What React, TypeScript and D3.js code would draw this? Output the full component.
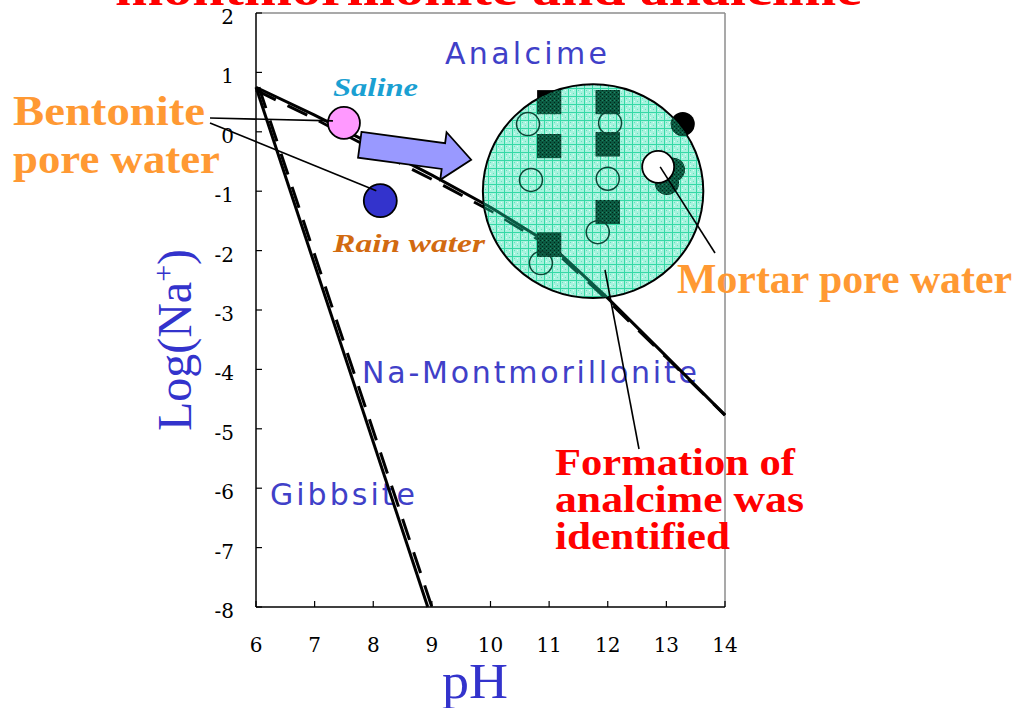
import React from 'react';
import * as d3 from 'd3';

// axis ticks
const phTicks = [6, 7, 8, 9, 10, 11, 12, 13, 14];
const logNaTicks = [2, 1, 0, -1, -2, -3, -4, -5, -6, -7, -8];

// analcime / Na-montmorillonite boundary
const anaBoundaryPH = [6, 7, 8, 9, 10, 11, 12, 13, 14];
const anaBoundaryLogNa = [0.75, 0.28, -0.22, -0.73, -1.27, -1.88, -2.8, -3.78, -4.77];
const anaBoundaryDashLogNa = [0.7, 0.22, -0.3, -0.8, -1.33, -1.93, -2.84, -3.8, -4.77];

// gibbsite / Na-montmorillonite boundary
const gibbSolidPH = [6, 8.93];
const gibbSolidLogNa = [0.75, -8];
const gibbDashPH = [6.05, 9.0];
const gibbDashLogNa = [0.75, -8];

// water compositions
const salinePoint = { ph: 7.5, logNa: 0.15 };
const rainPoint = { ph: 8.12, logNa: -1.16 };
const mortarPoint = { ph: 12.86, logNa: -0.59 };

// experiment markers inside the circle
const squarePH = [11, 12, 11, 12, 12, 11];
const squareLogNa = [0.5, 0.5, -0.24, -0.21, -1.35, -1.9];
const openPH = [10.64, 12.04, 10.69, 12.0, 11.83, 10.86];
const openLogNa = [0.13, 0.15, -0.81, -0.79, -1.69, -2.21];
const darkDotPH = [13.28, 13.11, 13.01];
const darkDotLogNa = [0.13, -0.64, -0.86];

// analcime field circle
const fieldCenter = { ph: 11.75, logNa: -1.0 };
const fieldRadius = { ph: 1.88, logNa: 1.8 };

// arrow saline -> field
const arrowFrom = { ph: 7.77, logNa: -0.22 };
const arrowTo = { ph: 9.67, logNa: -0.47 };

const W = 1018;
const H = 708;
const serif = '"Liberation Serif", "DejaVu Serif", serif';
const tickFont = '"DejaVu Serif", serif';
const sans = '"DejaVu Sans", Verdana, sans-serif';

export default function App() {
  const x = d3.scaleLinear().domain([6, 14]).range([256, 725]);
  const y = d3.scaleLinear().domain([-8, 2]).range([607, 13]);

  const line = d3.line<[number, number]>().x(d => x(d[0])).y(d => y(d[1]));
  const anaSolid = line(anaBoundaryPH.map((p, i) => [p, anaBoundaryLogNa[i]]))!;
  const anaDash = line(anaBoundaryPH.map((p, i) => [p, anaBoundaryDashLogNa[i]]))!;
  const gibbSolid = line(gibbSolidPH.map((p, i) => [p, gibbSolidLogNa[i]]))!;
  const gibbDash = line(gibbDashPH.map((p, i) => [p, gibbDashLogNa[i]]))!;

  const cx = x(fieldCenter.ph);
  const cy = y(fieldCenter.logNa);
  const rx = x(fieldCenter.ph + fieldRadius.ph) - cx;
  const ry = cy - y(fieldCenter.logNa + fieldRadius.logNa);

  // block arrow
  const ax0 = x(arrowFrom.ph), ay0 = y(arrowFrom.logNa);
  const ax1 = x(arrowTo.ph), ay1 = y(arrowTo.logNa);
  const len = Math.hypot(ax1 - ax0, ay1 - ay0);
  const ang = (Math.atan2(ay1 - ay0, ax1 - ax0) * 180) / Math.PI;
  const bw = 13, hw = 24, hl = 28;
  const arrowPts = [
    [0, -bw], [len - hl, -bw], [len - hl, -hw], [len, 0],
    [len - hl, hw], [len - hl, bw], [0, bw],
  ].map(p => p.join(',')).join(' ');

  const sq = 24;

  return (
    <svg width={W} height={H} style={{ position: 'absolute', left: 0, top: 0, background: '#fff' }}>
      <defs>
        <pattern id="fieldFill" width="8" height="8" patternUnits="userSpaceOnUse">
          <rect width="8" height="8" fill="#a6f2dd" />
          <rect x="2" y="2" width="1" height="1" fill="#5fe3bb" />
          <rect x="5" y="5" width="1" height="1" fill="#5fe3bb" />
          <rect x="2" y="5" width="1" height="1" fill="#e0fff5" />
          <rect x="5" y="2" width="1" height="1" fill="#e0fff5" />
          <rect x="0" y="0" width="8" height="1" fill="#34d9a6" />
          <rect x="0" y="0" width="1" height="8" fill="#34d9a6" />
        </pattern>
        <pattern id="darkFill" width="4" height="4" patternUnits="userSpaceOnUse">
          <rect width="4" height="4" fill="#0c5a42" />
          <rect x="0" y="0" width="1" height="1" fill="#002818" />
          <rect x="2" y="2" width="1" height="1" fill="#002818" />
          <rect x="2" y="0" width="1" height="1" fill="#1f8a66" />
        </pattern>
        <clipPath id="fieldClip">
          <ellipse cx={cx} cy={cy} rx={rx} ry={ry} />
        </clipPath>
      </defs>

      {/* title, cut by top edge */}
      <text x={115} y={5} fill="#ff0000" fontFamily={serif} fontWeight="bold" fontSize={48}
        textLength={747} lengthAdjust="spacingAndGlyphs">montmorillonite and analcime</text>

      {/* frame */}
      <line x1={x(6)} x2={x(14)} y1={y(2)} y2={y(2)} stroke="#8c8c8c" strokeWidth={1.5} />
      <line x1={x(14)} x2={x(14)} y1={y(2)} y2={y(-8)} stroke="#8c8c8c" strokeWidth={1.5} />
      <line x1={x(6)} x2={x(6)} y1={y(2)} y2={y(-8)} stroke="#000" strokeWidth={1.5} />
      <line x1={x(6)} x2={x(14)} y1={y(-8)} y2={y(-8)} stroke="#000" strokeWidth={1.5} />

      {logNaTicks.map(t => (
        <g key={'y' + t}>
          <line x1={x(6)} x2={x(6) + 6} y1={y(t)} y2={y(t)} stroke="#000" strokeWidth={1.2} />
          <text x={234} y={y(t) + 4} dy="0.35em" textAnchor="end" fontFamily={tickFont}
            fontSize={20}>{t}</text>
        </g>
      ))}
      {phTicks.map(t => (
        <g key={'x' + t}>
          <line x1={x(t)} x2={x(t)} y1={y(-8)} y2={y(-8) - 6} stroke="#000" strokeWidth={1.2} />
          <text x={x(t)} y={652} textAnchor="middle" fontFamily={tickFont}
            fontSize={20}>{t}</text>
        </g>
      ))}

      {/* axis titles */}
      <text x={475} y={698} textAnchor="middle" fill="#3333cc" fontFamily={serif} fontSize={50}
        textLength={66} lengthAdjust="spacingAndGlyphs">pH</text>
      <text transform="translate(191,340) rotate(-90)" textAnchor="middle" fill="#3333cc"
        fontFamily={serif} fontSize={48}>
        Log(Na<tspan dy={-18} fontSize={30}>+</tspan><tspan dy={18}>)</tspan>
      </text>

      {/* field names */}
      <text x={445} y={64} fill="#4040c8" fontFamily={sans} fontSize={30} textLength={162}
        lengthAdjust="spacing">Analcime</text>
      <text x={362} y={383} fill="#4040c8" fontFamily={sans} fontSize={30} textLength={335}
        lengthAdjust="spacing">Na-Montmorillonite</text>
      <text x={270} y={505} fill="#4040c8" fontFamily={sans} fontSize={30} textLength={145}
        lengthAdjust="spacing">Gibbsite</text>

      {/* boundaries */}
      <path d={gibbDash} fill="none" stroke="#000" strokeWidth={3} strokeDasharray="22,13" />
      <path d={gibbSolid} fill="none" stroke="#000" strokeWidth={3} />
      <path d={anaDash} fill="none" stroke="#000" strokeWidth={3} strokeDasharray="22,13" />
      <path d={anaSolid} fill="none" stroke="#000" strokeWidth={3} />

      {/* analcime field observed */}
      <ellipse cx={cx} cy={cy} rx={rx} ry={ry} fill="url(#fieldFill)"
        stroke="#000" strokeWidth={2} />
      <g clipPath="url(#fieldClip)">
        <path d={anaDash} fill="none" stroke="#0a5a44" strokeWidth={2.5} strokeDasharray="22,13" />
        <path d={anaSolid} fill="none" stroke="#0a5a44" strokeWidth={3} />
      </g>

      {/* dark markers: black outside field, green inside */}
      {squarePH.map((p, i) => (
        <rect key={'sb' + i} x={x(p) - sq / 2} y={y(squareLogNa[i]) - sq / 2} width={sq} height={sq} fill="#000" />
      ))}
      {darkDotPH.map((p, i) => (
        <circle key={'db' + i} cx={x(p)} cy={y(darkDotLogNa[i])} r={12} fill="#000" />
      ))}
      <g clipPath="url(#fieldClip)">
        {squarePH.map((p, i) => (
          <rect key={'sg' + i} x={x(p) - sq / 2} y={y(squareLogNa[i]) - sq / 2} width={sq} height={sq} fill="url(#darkFill)" />
        ))}
        {darkDotPH.map((p, i) => (
          <circle key={'dg' + i} cx={x(p)} cy={y(darkDotLogNa[i])} r={12} fill="url(#darkFill)" />
        ))}
      </g>
      {openPH.map((p, i) => (
        <circle key={'o' + i} cx={x(p)} cy={y(openLogNa[i])} r={11.5} fill="none" stroke="#0b4534" strokeWidth={1.5} />
      ))}
      <circle cx={x(mortarPoint.ph)} cy={y(mortarPoint.logNa)} r={16} fill="#fff" stroke="#000" strokeWidth={1.8} />

      {/* arrow */}
      <polygon points={arrowPts} transform={`translate(${ax0},${ay0}) rotate(${ang})`}
        fill="#9999ff" stroke="#000" strokeWidth={1.8} />

      {/* water samples */}
      <circle cx={x(salinePoint.ph)} cy={y(salinePoint.logNa)} r={16} fill="#ff99ff" stroke="#000" strokeWidth={1.8} />
      <circle cx={x(rainPoint.ph)} cy={y(rainPoint.logNa)} r={16.5} fill="#3333cc" stroke="#000" strokeWidth={1.8} />

      {/* leaders */}
      <line x1={210} y1={118} x2={x(salinePoint.ph) - 11} y2={y(salinePoint.logNa) - 2} stroke="#000" strokeWidth={1.6} />
      <line x1={210} y1={123} x2={x(rainPoint.ph) - 4} y2={y(rainPoint.logNa) - 10} stroke="#000" strokeWidth={1.6} />
      <line x1={x(mortarPoint.ph) + 2} y1={y(mortarPoint.logNa)} x2={715} y2={253} stroke="#000" strokeWidth={1.6} />
      <line x1={605} y1={270} x2={639} y2={449} stroke="#000" strokeWidth={1.6} />

      {/* labels */}
      <text x={333} y={96} fill="#1aa0d2" fontFamily={serif} fontWeight="bold" fontStyle="italic"
        fontSize={25} textLength={85} lengthAdjust="spacingAndGlyphs">Saline</text>
      <text x={333} y={252} fill="#d26a10" fontFamily={serif} fontWeight="bold" fontStyle="italic"
        fontSize={25} textLength={152} lengthAdjust="spacingAndGlyphs">Rain water</text>

      <g fill="#ff9933" fontFamily={serif} fontWeight="bold" fontSize={42}>
        <text x={13} y={125} textLength={192} lengthAdjust="spacingAndGlyphs">Bentonite</text>
        <text x={13} y={173} textLength={207} lengthAdjust="spacingAndGlyphs">pore water</text>
        <text x={677} y={293} textLength={335} lengthAdjust="spacingAndGlyphs">Mortar pore water</text>
      </g>
      <g fill="#ff0000" fontFamily={serif} fontWeight="bold" fontSize={38}>
        <text x={555} y={475} textLength={240} lengthAdjust="spacingAndGlyphs">Formation of</text>
        <text x={555} y={512} textLength={249} lengthAdjust="spacingAndGlyphs">analcime was</text>
        <text x={555} y={549} textLength={175} lengthAdjust="spacingAndGlyphs">identified</text>
      </g>
    </svg>
  );
}
